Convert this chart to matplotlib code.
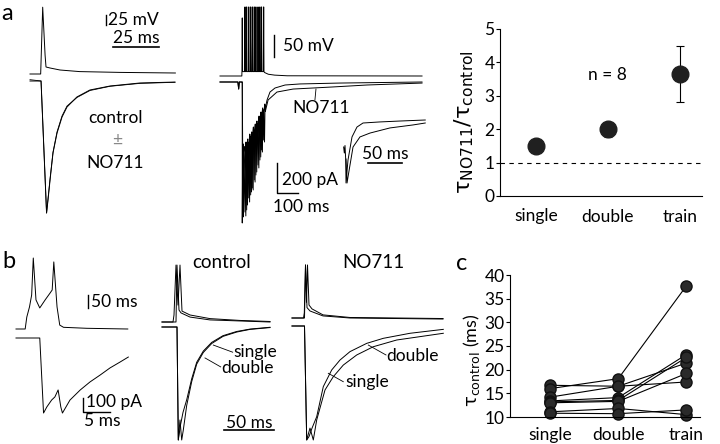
import matplotlib
matplotlib.use("Agg")
import matplotlib.pyplot as plt

plt.rcParams['font.family'] = ['Lato', 'DejaVu Sans']
plt.rcParams['mathtext.fontset'] = 'dejavusans'

# ---- panel a, left: single AP and IPSC (ms, mV / normalised current)
al_v_t = [0, 5.8, 6.9, 8.2, 8.7, 10.9, 16.3, 27, 49, 79]
al_v = [0, 0, 167, 47, 17.5, 15, 10, 6, 4, 2.5]
al_i_t = [0, 6, 9, 9.8, 10.9, 12.5, 14.7, 17.4, 20.1, 25.5, 32.6, 43.5, 59.8, 78.8]
al_ctrl = [0, 0, -1, -0.90, -0.75, -0.545, -0.394, -0.273, -0.197, -0.121, -0.068, -0.038, -0.015, -0.008]
al_no711 = [0.01, 0, -1, -0.89, -0.74, -0.54, -0.385, -0.265, -0.19, -0.125, -0.072, -0.04, -0.018, -0.01]

# ---- panel a, middle: spike train (ms, mV / pA)
am_spike_t = [106, 119, 127, 137, 146, 154, 163, 171, 181, 190, 198, 208]
am_spike_peak = [132, 157, 157, 157, 157, 157, 157, 157, 157, 157, 157, 157]
am_plateau = 10
am_tail_t = [212, 230, 260, 320, 962]
am_tail_v = [8, 4, 2, 0.5, 0]
am_pre_t = [0, 85, 89, 92, 104]
am_pre_i = [0, 0, -47, 0, 0]
am_trough_ctrl = [-940, -867, -853, -773, -753, -707, -653, -620, -553, -520, -453, -387]
am_between_ctrl = [-453, -440, -420, -387, -373, -340, -320, -300, -267, -240, -213, -187]
am_trough_no = [-900, -893, -820, -800, -733, -720, -667, -600, -573, -500, -467, -400]
am_between_no = [-470, -455, -440, -400, -390, -360, -335, -315, -280, -255, -225, -195]
am_ctrl_rec_t = [214, 224, 238, 262, 310, 381, 571, 962]
am_ctrl_rec = [-187, -120, -67, -40, -20, -13, -7, 0]
am_no_rec_t = [216, 229, 271, 348, 538, 700, 962]
am_no_rec = [-195, -120, -67, -47, -33, -20, -7]

# inset, expanded time scale
in_ctrl_t = [-2, -1, 0, 1, 1.5, 4.4, 10.3, 17.6, 26.5, 51, 80, 118]
in_ctrl = [-180, -220, -170, -260, -420, -267, -113, -47, -20, -13, -7, 0]
in_no_t = [1.5, 3, 4.4, 11.8, 22, 36.8, 66, 100, 118]
in_no = [-260, -420, -380, -180, -113, -87, -53, -33, -20]

# ---- panel a, right: tau ratio
cats = ['single', 'double', 'train']
ratio = [1.5, 2.0, 3.65]
ratio_err = [0.1, 0.22, 0.85]

# ---- panel b, left: doublet
bl_v_t = [0, 1.7, 2.0, 2.5, 2.9, 3.2, 3.7, 4.4, 5.4, 6.3, 6.7, 7.0, 7.6, 8.1, 8.8, 13.1, 20.7]
bl_v = [0, 0, 46, 85, 131, 273, 112, 81, 112, 138, 150, 258, 85, 15, 6.5, 2.7, 0]
bl_i_t = [0, 4.4, 5.1, 5.7, 6.6, 7.2, 7.8, 8.3, 8.6, 10, 11.9, 13.7, 15.6, 17.4, 19.3, 20.8]
bl_i = [0, 0, -536, -493, -443, -421, -371, -493, -536, -443, -371, -314, -264, -214, -171, -136]

# ---- panel b, control
bc_v_t_single = [0, 14, 15, 17, 19, 28, 48, 78, 108]
bc_v_single = [0, 0, 219, 46, 35, 19, 8, 4, 0]
bc_v_t_double = [0, 11, 12, 14, 16, 18, 20, 28, 48, 78, 108]
bc_v_double = [0, 0, 27, 219, 65, 219, 42, 27, 13, 6, 2]
bc_i_t_single = [0, 15, 16.3, 18.5, 21, 24.7, 29.7, 34.7, 41.3, 49.7, 61, 74.7, 88, 108]
bc_i_single = [0, 0, -807, -700, -610, -520, -370, -252, -172, -110, -62, -32, -15, -2]
bc_i_t_double = [0, 15, 16.3, 18, 19.7, 21.3, 24.7, 29.7, 34.7, 41.3, 49.7, 61, 74.7, 88, 108]
bc_i_double = [0, 0, -807, -664, -807, -736, -560, -390, -265, -182, -118, -67, -36, -17, -4]

# ---- panel b, NO711
bn_v_t_single = [0, 12.5, 13.5, 15, 18, 31, 58, 151]
bn_v_single = [0, 0, 204, 40, 27, 8, 0, -4]
bn_v_t_double = [0, 11.5, 12.3, 13.5, 14.5, 15.5, 17, 20, 31, 58, 151]
bn_v_double = [0, 0, 20, 204, 60, 204, 50, 35, 12, 2, -2]
bn_i_t_single = [0, 12.5, 14.7, 17, 20, 24.7, 31.3, 39.7, 48, 58, 74.7, 91.3, 118, 151.3]
bn_i_single = [0, 0, -814, -790, -730, -648, -433, -314, -243, -183, -124, -88, -52, -24]
bn_i_t_double = [0, 12.5, 14.7, 18, 21.3, 24.7, 33, 41.3, 51.3, 64.7, 81.3, 104.7, 151.3]
bn_i_double = [0, 0, -814, -729, -814, -671, -457, -362, -279, -207, -148, -100, -52]

# ---- panel c: tau control per cell
tau_single = [16.7, 16.0, 14.2, 13.4, 13.2, 13.0, 11.1, 10.8]
tau_double = [16.5, 18.1, 16.5, 14.1, 13.5, 13.3, 11.8, 10.7]
tau_train = [17.4, 37.7, 21.4, 23.2, 22.6, 19.2, 10.5, 11.5]

W, H = 720, 444
fig = plt.figure(figsize=(7.2, 4.44), dpi=100)
LW = 0.7
FS = 12.5


def px_axes(x0, y0, x1, y1):
    return fig.add_axes([x0 / W, 1 - y1 / H, (x1 - x0) / W, (y1 - y0) / H])


def trace_axes(ox, oy, sx, sy, tlim, vlim):
    # ox, oy: pixel spot of t=0, v=0; sx, sy: pixels per unit
    ax = px_axes(ox + tlim[0] * sx, oy - vlim[1] * sy, ox + tlim[1] * sx, oy - vlim[0] * sy)
    ax.set_xlim(*tlim)
    ax.set_ylim(*vlim)
    ax.axis('off')
    return ax


def ftext(x, y, s, **kw):
    fig.text(x / W, 1 - y / H, s, **kw)


def line(ax, t, v, **kw):
    ax.plot(t, v, color='k', lw=kw.pop('lw', LW), clip_on=False, **kw)


# ================= a left
ax = trace_axes(30, 74, 1.84, 0.4, (-2, 82), (-20, 185))
line(ax, al_v_t, al_v)
line(ax, [41.3, 41.3], [122, 147], lw=1)
ax.text(42.3, 134, '25 mV', fontsize=FS, va='center', ha='left')
line(ax, [45.1, 70.1], [67, 67], lw=1.2)
ax.text(57.6, 71, '25 ms', fontsize=FS, va='bottom', ha='center')

ax = trace_axes(30, 81, 1.84, 132, (-2, 82), (-1.05, 0.05))
line(ax, al_i_t, al_ctrl)
line(ax, al_i_t, al_no711, lw=0.6)
ax.text(46.7, -0.28, 'control', fontsize=FS, ha='center', va='center')
ax.text(47.5, -0.447, '±', fontsize=FS, ha='center', va='center', color='#888888')
ax.text(46.2, -0.62, 'NO711', fontsize=FS, ha='center', va='center')

# ================= a middle
v_t, v = list(am_pre_t), [0] * len(am_pre_t)
for ts, pk in zip(am_spike_t, am_spike_peak):
    v_t += [ts - 1.5, ts, ts + 1.5]
    v += [am_plateau, pk, am_plateau]
ax = trace_axes(220, 76, 0.21, 0.44, (-10, 980), (-20, 175))
line(ax, v_t + am_tail_t, v + am_tail_v)
line(ax, [257, 257], [43, 93], lw=1)
ax.text(300, 68, '50 mV', fontsize=FS, va='center', ha='left')

ax = trace_axes(220, 82, 0.21, 0.15, (-10, 980), (-1000, 30))
for trough, between, rec_t, rec, lag in [(am_trough_ctrl, am_between_ctrl, am_ctrl_rec_t, am_ctrl_rec, 0),
                                         (am_trough_no, am_between_no, am_no_rec_t, am_no_rec, 4)]:
    i_t, i_v = list(am_pre_t) + [106], list(am_pre_i) + [0]
    for ts, tr, bw in zip(am_spike_t, trough, between):
        i_t += [ts + lag, ts + lag + 2, ts + lag + 5]
        i_v += [tr, bw, bw + 40]
    line(ax, i_t + rec_t, i_v + rec)
ax.text(343, -173, 'NO711', fontsize=FS, ha='left', va='center')
line(ax, [457, 452], [-47, -120], lw=0.6)
line(ax, [271, 271, 371], [-540, -740, -740], lw=1)
ax.text(295, -653, '200 pA', fontsize=FS, ha='left', va='center')
ax.text(252, -833, '100 ms', fontsize=FS, ha='left', va='center')

ax = trace_axes(345, 120, 0.68, 0.15, (-5, 120), (-430, 10))
line(ax, in_ctrl_t, in_ctrl)
line(ax, in_no_t, in_no)
line(ax, [34, 84], [-287, -287], lw=1.2)
ax.text(59, -280, '50 ms', fontsize=FS, ha='center', va='bottom')

# ================= a right
ax = px_axes(500, 29, 702, 196)
x = range(len(cats))
ax.axhline(1, xmin=0, xmax=0.99, color='k', lw=0.8, ls=(0, (4, 4)))
ax.errorbar(x, ratio, yerr=ratio_err, fmt='o', color='#202020', ms=12,
            ecolor='k', elinewidth=0.8, capsize=3, capthick=0.8, zorder=3)
ax.set_xlim(-0.5, 2.31)
ax.set_ylim(0, 5)
ax.set_yticks(range(6))
ax.set_xticks(list(x), cats)
ax.tick_params(axis='y', direction='out', length=3, width=0.8, labelsize=FS, pad=1)
ax.tick_params(axis='x', length=0, labelsize=FS, pad=9)
for s in ['top', 'right']:
    ax.spines[s].set_visible(False)
for s in ['left', 'bottom']:
    ax.spines[s].set_linewidth(0.8)
ax.text(1.0, 3.62, 'n = 8', fontsize=FS, ha='center', va='center')
ax.text(-0.175, 0.44, r'$\mathrm{\tau_{NO711}/\tau_{control}}$', fontsize=16,
        rotation=90, ha='center', va='center', transform=ax.transAxes)

# ================= b left
ax = trace_axes(16, 329, 5.4, 0.26, (-0.5, 21), (-10, 285))
line(ax, bl_v_t, bl_v)
line(ax, [13.3, 13.3], [81, 131], lw=1)
ax.text(13.9, 104, '50 ms', fontsize=FS, ha='left', va='center')
ax = trace_axes(16, 338, 5.4, 0.14, (-0.5, 21), (-560, 10))
line(ax, bl_i_t, bl_i)
line(ax, [12.4, 12.4, 17.4], [-429, -529, -529], lw=1)
ax.text(13.0, -460, '100 pA', fontsize=FS, ha='left', va='center')
ax.text(15.9, -590, '5 ms', fontsize=FS, ha='center', va='center')

# ================= b control
ax = trace_axes(162, 322, 1.0, 0.26, (-1, 110), (-10, 230))
line(ax, bc_v_t_single, bc_v_single)
line(ax, bc_v_t_double, bc_v_double)
ax = trace_axes(162, 327, 1.0, 0.14, (-1, 110), (-820, 10))
line(ax, bc_i_t_single, bc_i_single)
line(ax, bc_i_t_double, bc_i_double)
line(ax, [51.3, 70.7], [-129, -180], lw=0.6)
line(ax, [43, 58.7], [-221, -285], lw=0.6)
ax.text(71.3, -180, 'single', fontsize=FS, ha='left', va='center')
ax.text(59.7, -292, 'double', fontsize=FS, ha='left', va='center')
line(ax, [62, 112], [-736, -736], lw=1.2)
ax.text(87, -686, '50 ms', fontsize=FS, ha='center', va='center')
ftext(222, 262, 'control', fontsize=13.5, ha='center', va='center')

# ================= b NO711
ax = trace_axes(292, 318, 1.0, 0.26, (-1, 153), (-10, 215))
line(ax, bn_v_t_single, bn_v_single)
line(ax, bn_v_t_double, bn_v_double)
ax = trace_axes(292, 326, 1.0, 0.14, (-1, 153), (-830, 10))
line(ax, bn_i_t_single, bn_i_single)
line(ax, bn_i_t_double, bn_i_double)
line(ax, [76.3, 94], [-136, -207], lw=0.6)
line(ax, [36.3, 51.3], [-338, -398], lw=0.6)
ax.text(94.7, -214, 'double', fontsize=FS, ha='left', va='center')
ax.text(53, -398, 'single', fontsize=FS, ha='left', va='center')
ftext(373, 262, 'NO711', fontsize=13.5, ha='center', va='center')

# ================= c
ax = px_axes(510, 275, 700, 417)
for a, b, c in zip(tau_single, tau_double, tau_train):
    ax.plot([0, 1, 2], [a, b, c], '-o', color='k', lw=0.8, ms=8,
            mfc='#2a2a2a', mec='#111111', clip_on=False)
ax.set_xlim(-0.59, 2.2)
ax.set_ylim(10, 40)
ax.set_yticks(range(10, 41, 5))
ax.set_xticks([0, 1, 2], cats)
ax.tick_params(axis='y', direction='out', length=3, width=0.8, labelsize=FS, pad=1)
ax.tick_params(axis='x', length=0, labelsize=FS, pad=7)
for s in ['top', 'right']:
    ax.spines[s].set_visible(False)
for s in ['left', 'bottom']:
    ax.spines[s].set_linewidth(0.8)
ax.text(-0.2, 0.4, r'$\mathrm{\tau_{control}}$ (ms)', fontsize=13,
        rotation=90, ha='center', va='center', transform=ax.transAxes)

# panel letters
ftext(7, 13, 'a', fontsize=17, ha='center', va='center')
ftext(9, 262, 'b', fontsize=17, ha='center', va='center')
ftext(462, 263, 'c', fontsize=17, ha='center', va='center')

plt.savefig('out.png', dpi=100)
